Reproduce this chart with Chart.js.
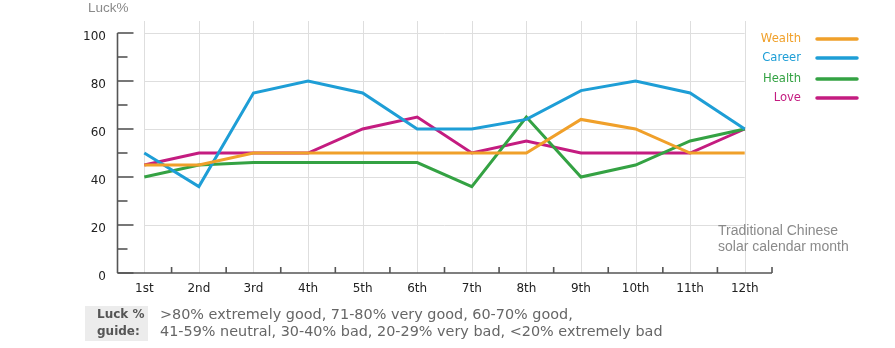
<!DOCTYPE html>
<html>
<head>
<meta charset="utf-8">
<script src="https://cdn.jsdelivr.net/npm/chart.js@4/dist/chart.umd.min.js"></script>
<style>
  html, body { margin: 0; padding: 0; background: #fff; }
  #wrap { position: relative; width: 895px; height: 348px; }
  canvas { display: block; }
</style>
</head>
<body>
<div id="wrap"><canvas id="c" width="895" height="348"></canvas></div>
<script>
// Monthly luck percentages by traditional Chinese solar month
const months = ['1st', '2nd', '3rd', '4th', '5th', '6th', '7th', '8th', '9th', '10th', '11th', '12th'];
const wealth = [45, 45, 50, 50, 50, 50, 50, 50, 64, 60, 50, 50];
const career = [50, 36, 75, 80, 75, 60, 60, 64, 76, 80, 75, 60];
const health = [40, 45, 46, 46, 46, 46, 36, 65, 40, 45, 55, 60];
const love   = [45, 50, 50, 50, 60, 65, 50, 55, 50, 50, 50, 60];
const yTicks = [0, 20, 40, 60, 80, 100];
const guideLines = [
  '>80% extremely good, 71-80% very good, 60-70% good,',
  '41-59% neutral, 30-40% bad, 20-29% very bad, <20% extremely bad'
];

const COLORS = {
  Wealth: '#F0A02A',
  Career: '#1E9ED6',
  Health: '#34A243',
  Love:   '#C41C80'
};

const series = [
  { label: 'Wealth', data: wealth },
  { label: 'Career', data: career },
  { label: 'Health', data: health },
  { label: 'Love',   data: love }
];

const AXIS = '#555';
const GRID = '#dedede';

// Grid, axis lines and tick marks, drawn from the chart's own scales
const axesPlugin = {
  id: 'axesDecor',
  beforeDatasetsDraw(chart) {
    const { ctx, chartArea, scales } = chart;
    const x = scales.x, y = scales.y;
    const yBottom = y.getPixelForValue(0);
    const firstX = x.getPixelForValue(0);
    const lastX = x.getPixelForValue(months.length - 1);
    ctx.save();
    // vertical grid at each month
    ctx.strokeStyle = GRID;
    ctx.lineWidth = 1;
    for (let i = 0; i < months.length; i++) {
      const px = Math.round(x.getPixelForValue(i)) + 0.5;
      ctx.beginPath();
      ctx.moveTo(px, chartArea.top);
      ctx.lineTo(px, yBottom);
      ctx.stroke();
    }
    // horizontal grid
    yTicks.forEach(v => {
      if (v === 0) return;
      const py = Math.round(y.getPixelForValue(v)) + 0.5;
      ctx.beginPath();
      ctx.moveTo(firstX, py);
      ctx.lineTo(lastX, py);
      ctx.stroke();
    });
    ctx.restore();
  },
  afterDatasetsDraw(chart) {
    const { ctx, chartArea, scales } = chart;
    const x = scales.x, y = scales.y;
    const x0 = chartArea.left + 0.5;
    const yBottom = y.getPixelForValue(0);
    const yTop = y.getPixelForValue(100);
    const half = (x.getPixelForValue(1) - x.getPixelForValue(0)) / 2;
    const xEnd = x.getPixelForValue(months.length - 1) + half;
    ctx.save();
    ctx.strokeStyle = AXIS;
    ctx.lineWidth = 1.6;
    // y axis line
    ctx.beginPath();
    ctx.moveTo(x0, yTop);
    ctx.lineTo(x0, yBottom);
    ctx.stroke();
    // y ticks: long at labelled values, short in between
    for (let v = 0; v <= 100; v += 10) {
      const py = y.getPixelForValue(v);
      const len = (v % 20 === 0) ? 16 : 10;
      ctx.beginPath();
      ctx.moveTo(x0, py);
      ctx.lineTo(x0 + len, py);
      ctx.stroke();
    }
    // x axis line
    ctx.beginPath();
    ctx.moveTo(x0, yBottom);
    ctx.lineTo(xEnd, yBottom);
    ctx.stroke();
    // x ticks at month boundaries
    for (let i = 0; i < months.length; i++) {
      const px = x.getPixelForValue(i) + half;
      ctx.beginPath();
      ctx.moveTo(px, yBottom);
      ctx.lineTo(px, yBottom - 6);
      ctx.stroke();
    }
    ctx.restore();
  }
};

// Legend, axis captions and the guide note
const notesPlugin = {
  id: 'notes',
  afterDraw(chart) {
    const { ctx } = chart;
    ctx.save();
    // legend
    const legendY = [39, 58, 79, 98];
    series.forEach((s, i) => {
      const c = COLORS[s.label];
      ctx.font = '11.6px "DejaVu Sans", Verdana, sans-serif';
      ctx.fillStyle = c;
      ctx.textAlign = 'right';
      ctx.textBaseline = 'middle';
      ctx.fillText(s.label, 801, legendY[i]);
      ctx.strokeStyle = c;
      ctx.lineWidth = 3.5;
      ctx.lineCap = 'round';
      ctx.beginPath();
      ctx.moveTo(817, legendY[i]);
      ctx.lineTo(857, legendY[i]);
      ctx.stroke();
    });
    // axis captions
    ctx.fillStyle = '#8a8a8a';
    ctx.textAlign = 'left';
    ctx.textBaseline = 'middle';
    ctx.font = '13.5px "Liberation Sans", Arial, sans-serif';
    ctx.fillText('Luck%', 88, 8);
    ctx.font = '14px "Liberation Sans", Arial, sans-serif';
    ctx.fillText('Traditional Chinese', 718, 231);
    ctx.fillText('solar calendar month', 718, 247);
    // guide box
    ctx.fillStyle = '#ececec';
    ctx.fillRect(85, 306, 63, 35);
    ctx.fillStyle = '#555';
    ctx.font = 'bold 12px "DejaVu Sans", Verdana, sans-serif';
    ctx.fillText('Luck %', 97, 315);
    ctx.fillText('guide:', 97, 332);
    ctx.fillStyle = '#666';
    ctx.font = '14.4px "DejaVu Sans", Verdana, sans-serif';
    ctx.fillText(guideLines[0], 160, 315);
    ctx.fillText(guideLines[1], 160, 332);
    ctx.restore();
  }
};

new Chart(document.getElementById('c'), {
  type: 'line',
  data: {
    labels: months,
    datasets: series.map(s => ({
      label: s.label,
      data: s.data,
      borderColor: COLORS[s.label],
      backgroundColor: COLORS[s.label],
      borderWidth: 3,
      pointRadius: 0,
      tension: 0,
      fill: false
    }))
  },
  options: {
    responsive: false,
    animation: false,
    devicePixelRatio: 1,
    layout: { padding: { top: 21, right: 123, left: 0, bottom: 0 } },
    plugins: {
      legend: { display: false },
      tooltip: { enabled: false },
      title: { display: false }
    },
    scales: {
      x: {
        type: 'category',
        offset: true,
        grid: { display: false, drawTicks: false },
        border: { display: false },
        ticks: {
          color: '#222',
          padding: 9,
          maxRotation: 0,
          font: { family: '"DejaVu Sans", Verdana, sans-serif', size: 12 }
        },
        afterFit(scale) { scale.height = 75; }
      },
      y: {
        min: 0,
        max: 105,
        grid: { display: false, drawTicks: false },
        border: { display: false },
        afterBuildTicks(scale) { scale.ticks = yTicks.map(v => ({ value: v })); },
        ticks: {
          color: '#222',
          padding: 11,
          labelOffset: 4,
          font: { family: '"DejaVu Sans", Verdana, sans-serif', size: 12 }
        },
        afterFit(scale) { scale.width = 117; }
      }
    }
  },
  plugins: [axesPlugin, notesPlugin]
});
</script>
</body>
</html>
